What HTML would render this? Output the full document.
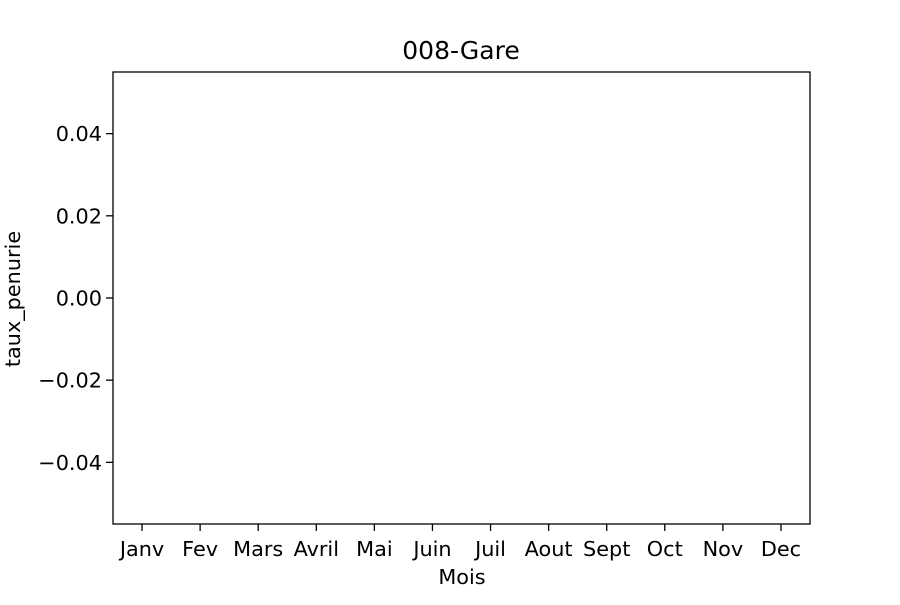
<!DOCTYPE html>
<html><head><meta charset="utf-8"><style>
body{margin:0;background:#fff}
svg text{font-family:"DejaVu Sans","Liberation Sans",sans-serif;fill:#000}
</style></head><body>
<svg width="900" height="600" xmlns="http://www.w3.org/2000/svg">
<rect width="900" height="600" fill="#fff"/>
<text x="461" y="59" font-size="25" text-anchor="middle">008-Gare</text>
<g id="bars"></g>
<g id="xt"></g><g id="yt"></g>
<rect x="113" y="72" width="697" height="452" fill="none" stroke="#000" stroke-width="1.3"/>
<text x="462" y="584" font-size="20.8" text-anchor="middle">Mois</text>
<text transform="translate(20,299) rotate(-90)" font-size="20.8" text-anchor="middle">taux_penurie</text>
</svg>
<script>
const categories=["Janv","Fev","Mars","Avril","Mai","Juin","Juil","Aout","Sept","Oct","Nov","Dec"];
const values=[0,0,0,0,0,0,0,0,0,0,0,0];
const yTicks=[-0.04,-0.02,0,0.02,0.04];
const yTickLabels=["\u22120.04","\u22120.02","0.00","0.02","0.04"];
const L=113,R=810,T=72,B=524,ymin=-0.055,ymax=0.055;
const x=i=>L+(i+0.5)*(R-L)/categories.length;
const y=v=>B-(v-ymin)/(ymax-ymin)*(B-T);
const ns="http://www.w3.org/2000/svg";
function mk(t,a,p){const e=document.createElementNS(ns,t);for(const k in a)e.setAttribute(k,a[k]);p.appendChild(e);return e;}
const bw=0.8*(R-L)/categories.length;
const bg=document.getElementById('bars'),xg=document.getElementById('xt'),yg=document.getElementById('yt');
categories.forEach((c,i)=>{
 const v=values[i];
 const r=mk('rect',{x:x(i)-bw/2,y:Math.min(y(v),y(0)),width:bw,height:Math.abs(y(v)-y(0)),fill:'#1f77b4'},bg);
 
 
 const tk=mk('line',{x1:x(i),x2:x(i),y1:B,y2:B+7,stroke:'#000','stroke-width':1.3},xg);
 
 
 const t=mk('text',{x:x(i),y:556,'font-size':20.8,'text-anchor':'middle'},xg);
 t.textContent=c;
 
 
});
yTicks.forEach((v,i)=>{
 const tk=mk('line',{x1:L-7,x2:L,y1:y(v),y2:y(v),stroke:'#000','stroke-width':1.3},yg);
 
 
 const t=mk('text',{x:L-11,y:y(v)+7.5,'font-size':20.8,'text-anchor':'end'},yg);
 t.textContent=yTickLabels[i];
 
 
});
</script>
</body></html>
